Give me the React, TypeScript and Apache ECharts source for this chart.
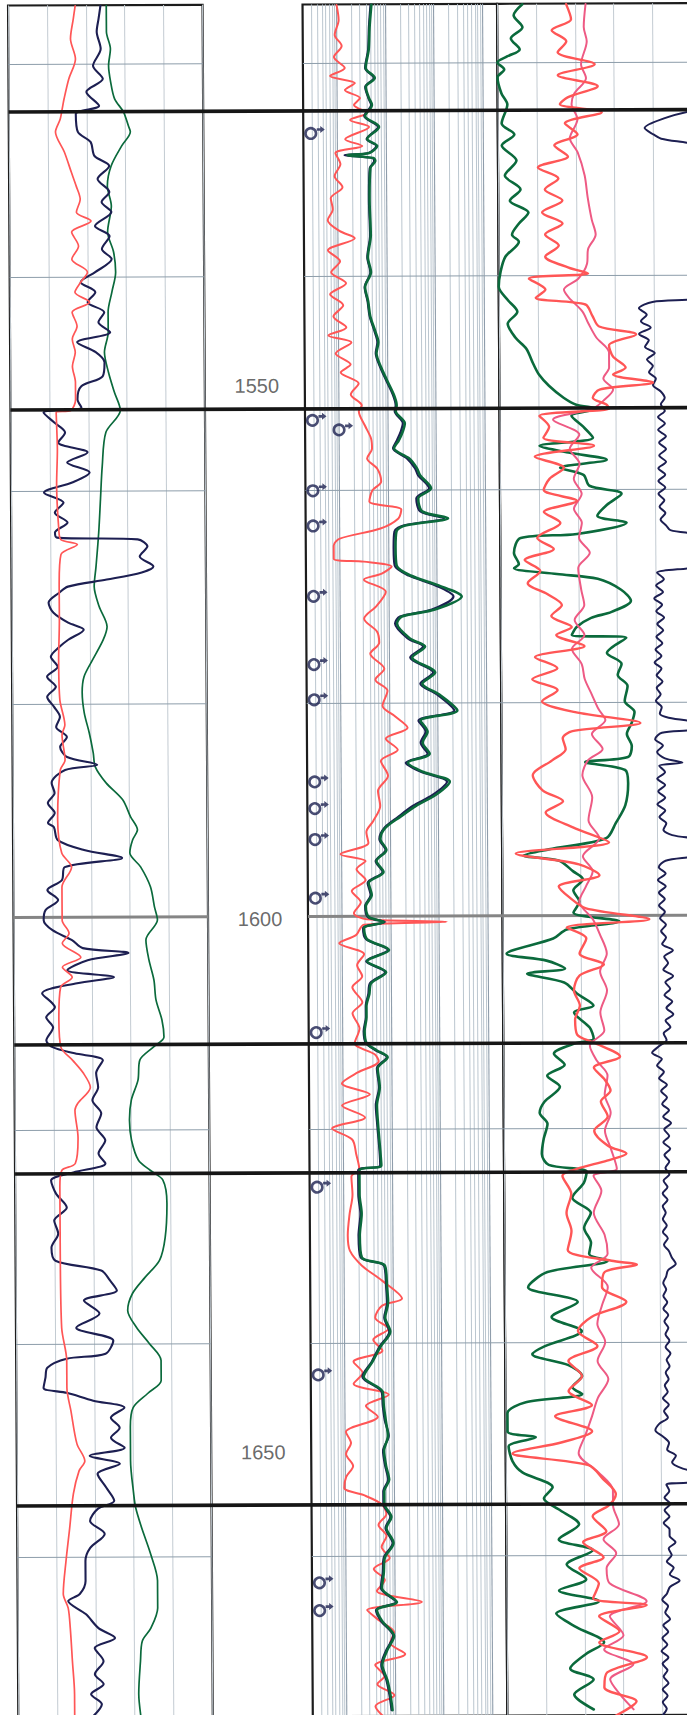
import React, { useEffect, useRef } from "react";
import * as echarts from "echarts";

// ---------- depth frame ----------
const DEPTH_MIN = 1514.5;
const DEPTH_MAX = 1675;
const depthLabels = [1550, 1600, 1650];
const minorDepthLines = [1520, 1540, 1560, 1580, 1620, 1640, 1660];
const majorDepthLines = [1600];
const zoneTops = [1524.5, 1552.4, 1611.9, 1624.0, 1655.2];
const logMantissas = [1, 2, 3, 4, 5, 6, 7, 8, 9];
const logDecades = [0.1, 1, 10, 100, 1000];

// ---------- track 2 markers ----------
const markerDepths = [1526.6, 1553.5, 1554.4, 1560.1, 1563.4, 1570.0, 1576.4, 1579.7, 1587.4, 1589.9, 1592.8, 1598.3, 1610.9, 1625.4, 1643.0, 1662.5, 1665.1];
const markerRes = [0.285, 0.285, 1.0, 0.285, 0.285, 0.285, 0.285, 0.285, 0.285, 0.285, 0.285, 0.285, 0.285, 0.285, 0.285, 0.285, 0.285];

// ---------- track 1 : [depth, value] (scale 0-200) ----------
const t1Red = [[1514.55,69],[1515.77,67],[1517.65,64],[1519.53,69],[1521.41,62],[1523.29,57],[1524.23,55],[1525.16,53],[1526.38,48],[1528.26,57],[1530.14,64],[1531.46,69],[1532.68,73],[1533.9,69],[1534.74,84],[1535.77,64],[1537.09,71],[1538.31,64],[1539.53,80],[1540.47,73],[1541.41,67],[1542.35,82],[1543.29,64],[1544.6,69],[1545.82,64],[1547.04,67],[1548.36,64],[1549.86,67],[1551.46,67],[1552.49,62],[1552.68,47],[1556.15,48],[1559.5,47],[1563.66,49],[1564.6,51],[1565.07,68],[1566.01,51],[1569.0,49],[1572.11,49],[1576.0,48],[1579.62,49],[1581.97,54],[1582.91,51],[1585.26,54],[1586.2,49],[1590.89,46],[1593.99,50],[1595.31,60],[1597.18,50],[1600.28,50],[1601.5,57],[1602.44,50],[1603.76,69],[1604.69,50],[1605.63,60],[1606.57,48],[1609.67,46],[1612.21,48],[1613.43,60],[1614.65,71],[1615.96,78],[1617.46,65],[1618.12,62],[1620.66,65],[1623.1,62],[1623.76,48],[1625.35,46],[1631.55,46],[1638.5,47],[1641.6,52],[1644.13,52],[1646.29,56],[1649.39,62],[1650.99,70],[1651.92,64],[1654.08,58],[1657.28,54],[1660.38,50],[1663.47,47],[1664.79,52],[1666.67,54],[1669.77,56],[1672.86,58],[1674.93,58]];
const t1Navy = [[1514.55,95],[1515.77,93],[1516.99,91],[1518.59,95],[1520.19,87],[1521.41,97],[1522.63,80],[1523.94,93],[1524.69,69],[1526.38,71],[1527.32,84],[1528.64,88],[1529.58,103],[1530.8,91],[1532.02,103],[1532.96,95],[1533.9,105],[1535.21,88],[1536.15,103],[1537.37,95],[1538.31,105],[1539.53,88],[1540.47,73],[1541.41,88],[1542.35,80],[1543.29,97],[1544.23,91],[1545.16,103],[1546.1,69],[1547.04,88],[1547.98,97],[1549.3,95],[1550.23,73],[1551.46,69],[1552.21,73],[1552.68,34],[1553.62,45],[1554.55,56],[1555.49,49],[1556.43,79],[1557.37,58],[1558.31,81],[1559.25,63],[1560.19,34],[1561.13,54],[1562.07,45],[1563.0,58],[1563.94,45],[1564.41,47],[1564.6,130],[1565.26,140],[1566.2,132],[1567.14,146],[1567.7,134],[1568.36,98],[1569.01,58],[1569.58,49],[1570.52,38],[1571.46,43],[1572.39,58],[1573.05,74],[1573.99,58],[1574.65,49],[1575.59,40],[1576.53,47],[1577.46,36],[1578.4,45],[1579.34,36],[1580.28,43],[1581.22,49],[1582.16,45],[1583.1,56],[1584.04,49],[1584.98,56],[1585.73,87],[1586.2,54],[1587.42,40],[1588.36,43],[1589.3,36],[1590.23,43],[1591.17,36],[1591.55,42],[1592.77,46],[1593.71,73],[1594.46,112],[1595.31,53],[1596.53,50],[1597.46,35],[1598.4,46],[1599.34,33],[1600.28,31],[1601.22,40],[1602.16,60],[1602.91,71],[1603.38,118],[1604.04,76],[1604.98,55],[1605.63,103],[1606.2,65],[1607.14,29],[1608.45,42],[1609.39,33],[1610.33,40],[1611.55,33],[1612.21,40],[1612.77,62],[1613.43,91],[1614.65,84],[1615.96,86],[1617.18,80],[1618.4,89],[1619.72,84],[1620.94,93],[1622.16,86],[1623.1,93],[1623.94,60],[1624.69,37],[1625.92,42],[1627.23,53],[1628.45,40],[1629.67,44],[1630.99,37],[1632.21,41],[1633.15,88],[1634.08,97],[1635.02,104],[1635.96,70],[1637.18,86],[1638.5,62],[1639.72,100],[1640.94,92],[1641.41,52],[1642.25,32],[1643.19,30],[1644.13,28],[1644.6,52],[1645.35,79],[1646.01,111],[1646.95,97],[1647.89,106],[1648.83,97],[1649.77,111],[1650.52,75],[1651.27,106],[1652.21,83],[1653.52,92],[1654.74,100],[1655.49,83],[1656.62,75],[1657.84,90],[1659.15,75],[1660.38,70],[1662.25,70],[1663.47,64],[1664.13,52],[1665.35,70],[1666.67,83],[1667.61,100],[1668.54,79],[1669.77,88],[1670.99,79],[1671.92,88],[1672.86,75],[1673.8,86],[1674.93,77]];
const t1Green = [[1514.55,101],[1516.99,101],[1518.59,105],[1520.19,103],[1521.69,105],[1523.29,109],[1524.51,118],[1525.82,123],[1526.38,125],[1527.7,116],[1529.58,105],[1531.46,101],[1533.33,105],[1535.77,101],[1537.65,107],[1539.53,109],[1541.41,105],[1543.29,101],[1545.16,101],[1547.04,97],[1548.92,101],[1550.8,107],[1552.49,113],[1554.55,98],[1557.75,94],[1560.85,92],[1563.94,90],[1567.14,87],[1569.01,85],[1570.89,90],[1572.77,98],[1573.99,94],[1575.87,83],[1577.46,74],[1578.97,72],[1580.85,74],[1582.72,79],[1584.6,83],[1585.92,85],[1587.42,96],[1589.01,113],[1590.61,121],[1591.83,128],[1592.77,123],[1593.99,120],[1595.31,131],[1597.18,141],[1599.06,145],[1600.28,148],[1602.16,136],[1604.04,139],[1605.92,144],[1607.79,146],[1609.67,152],[1611.27,154],[1612.21,143],[1613.43,129],[1615.31,127],[1617.18,120],[1619.06,118],[1620.94,120],[1622.82,127],[1623.76,139],[1624.69,152],[1626.85,156],[1630.05,154],[1632.21,148],[1633.8,133],[1635.31,120],[1636.9,115],[1638.5,124],[1640.0,137],[1641.6,149],[1643.47,149],[1644.69,135],[1646.01,120],[1647.89,117],[1650.99,117],[1654.08,120],[1655.4,122],[1657.28,128],[1659.72,137],[1662.25,144],[1664.79,144],[1666.67,137],[1667.89,128],[1669.77,126],[1672.86,124],[1674.93,126]];

// ---------- track 2 : [depth, ohm.m] (log 0.2-2000) ----------
const t2Red = [[1514.55,1.0],[1515.96,1.1],[1517.37,0.91],[1518.4,1.26],[1519.44,0.87],[1520.47,1.45],[1521.22,0.72],[1521.88,2.33],[1522.54,1.45],[1523.29,2.95],[1523.94,2.22],[1524.69,4.11],[1525.35,1.84],[1526.01,4.52],[1527.14,1.45],[1527.79,3.25],[1528.45,0.91],[1529.48,1.15],[1530.61,0.87],[1531.64,1.26],[1532.68,0.72],[1533.71,0.79],[1534.74,0.62],[1535.77,1.1],[1536.43,2.22],[1537.56,0.62],[1538.59,1.1],[1539.62,0.72],[1540.66,1.45],[1541.69,0.68],[1542.72,1.26],[1543.76,0.79],[1544.79,1.45],[1545.54,0.62],[1546.2,1.84],[1547.23,0.87],[1548.26,1.76],[1549.01,1.1],[1550.05,2.56],[1551.08,1.76],[1552.11,2.95],[1552.68,2.56],[1554.0,3.4],[1555.2,4.52],[1556.15,4.74],[1557.09,3.74],[1558.03,6.0],[1559.25,7.24],[1560.09,4.74],[1561.13,4.11],[1561.88,18.6],[1562.72,16.2],[1563.66,6.9],[1564.6,1.0],[1565.26,0.75],[1566.48,0.75],[1566.76,3.1],[1567.23,11.6],[1567.89,7.24],[1568.45,3.1],[1569.58,8.75],[1570.89,5.7],[1572.11,3.1],[1573.33,5.7],[1574.37,6.3],[1575.4,4.11],[1576.81,7.96],[1577.84,5.2],[1578.87,9.2],[1580.28,7.24],[1581.31,13.4],[1582.35,23.6],[1583.38,8.35],[1584.41,14.7],[1585.45,6.59],[1586.85,9.2],[1588.26,5.7],[1589.67,6.3],[1591.08,4.52],[1592.11,3.25],[1593.15,3.57],[1594.18,0.95],[1594.84,3.1],[1595.59,2.02],[1596.62,3.1],[1597.65,1.6],[1598.69,2.45],[1599.72,1.76],[1600.3,3.25],[1600.56,142],[1600.8,2.82],[1601.78,1.93],[1602.54,0.87],[1603.57,2.82],[1604.6,2.02],[1605.63,2.56],[1606.67,1.6],[1608.08,2.56],[1609.11,1.6],[1610.52,2.22],[1611.92,1.76],[1612.96,4.52],[1613.62,5.46],[1614.65,2.02],[1615.68,0.95],[1616.71,3.57],[1617.75,0.95],[1618.87,2.82],[1619.91,0.59],[1620.94,1.52],[1622.35,1.84],[1623.76,2.12],[1624.41,1.45],[1626.1,1.52],[1627.89,1.32],[1629.95,1.2],[1631.36,1.32],[1632.77,2.33],[1634.18,6.0],[1635.87,15.4],[1636.53,6.0],[1637.65,4.3],[1638.69,7.96],[1639.72,3.9],[1640.75,6.0],[1641.78,1.52],[1642.82,2.33],[1643.85,1.52],[1644.88,7.96],[1645.92,2.7],[1646.95,4.74],[1648.36,1.04],[1649.39,1.32],[1650.42,1.04],[1651.55,1.45],[1652.58,1.04],[1653.62,0.95],[1654.27,2.33],[1655.12,5.46],[1656.06,6.9],[1657.09,4.74],[1658.12,6.9],[1659.15,5.46],[1660.19,7.96],[1661.22,3.74],[1662.25,6.3],[1663.29,4.3],[1664.32,36],[1665.07,2.7],[1666.1,4.96],[1667.14,9.6],[1668.17,7.96],[1669.2,16.2],[1670.23,3.9],[1671.27,6.0],[1672.02,4.3],[1673.05,9.6],[1674.08,3.9],[1675.4,6.9]];
const t2Green = [[1514.55,5.2],[1516.71,4.74],[1518.78,4.52],[1520.47,3.9],[1521.41,6.0],[1522.25,3.9],[1523.29,4.52],[1523.94,5.2],[1524.98,3.74],[1526.01,7.24],[1527.14,4.11],[1527.79,6.59],[1528.45,4.52],[1528.64,1.6],[1528.92,5.46],[1529.2,6.0],[1529.86,4.74],[1532.96,4.52],[1536.15,4.74],[1538.22,4.11],[1539.62,4.74],[1541.03,3.57],[1542.35,4.11],[1543.76,4.52],[1545.16,5.7],[1546.2,6.59],[1547.23,6.0],[1548.64,7.6],[1549.67,9.6],[1551.08,13.4],[1552.11,15.4],[1552.68,14.7],[1553.8,22.5],[1554.55,20.5],[1555.4,16.9],[1556.15,13.4],[1557.09,27.2],[1558.03,39.6],[1558.69,45.7],[1559.91,76.8],[1560.85,41.6],[1562.07,50.2],[1562.72,170],[1563.38,22.5],[1563.94,14.7],[1565.54,14.0],[1567.14,14.7],[1568.08,28.5],[1569.01,107],[1570.05,317],[1571.27,88.6],[1571.92,18.6],[1572.58,14.7],[1573.99,27.2],[1574.74,55.2],[1575.77,29.9],[1577.18,88.6],[1578.22,47.9],[1579.25,107],[1580.75,250],[1581.69,43.6],[1582.72,60.6],[1583.76,47.9],[1584.79,66.6],[1585.63,23.6],[1586.48,47.9],[1587.42,171],[1588.64,88.6],[1589.67,34.4],[1590.7,16.2],[1591.74,7.96],[1592.77,6.3],[1593.8,8.35],[1594.84,5.2],[1595.87,7.24],[1596.9,3.57],[1598.03,4.11],[1599.06,3.1],[1600.09,3.57],[1600.56,7.24],[1601.13,2.82],[1602.16,3.25],[1603.19,9.2],[1604.23,3.25],[1605.26,7.96],[1606.29,3.9],[1607.32,3.57],[1608.45,3.1],[1609.48,3.1],[1610.8,2.82],[1611.92,3.1],[1612.58,4.96],[1613.24,8.35],[1614.27,5.2],[1616.06,5.7],[1617.75,4.96],[1619.53,5.2],[1621.88,5.7],[1623.38,6.0],[1623.85,2.12],[1626.1,2.12],[1627.89,2.33],[1629.95,2.12],[1632.02,2.33],[1632.77,6.9],[1634.84,7.6],[1636.24,7.96],[1637.65,6.9],[1638.97,8.75],[1640.38,5.46],[1641.78,3.74],[1643.19,2.45],[1644.6,6.0],[1645.92,6.3],[1647.32,6.9],[1648.73,7.6],[1650.14,6.3],[1651.55,6.9],[1652.86,7.96],[1653.9,6.3],[1655.12,6.3],[1656.34,8.75],[1657.37,6.9],[1658.78,9.6],[1660.19,6.3],[1661.6,6.0],[1663.0,5.46],[1664.32,11.1],[1665.07,4.3],[1666.1,5.46],[1667.51,9.6],[1668.83,6.9],[1670.23,5.46],[1671.64,6.9],[1673.05,7.96],[1674.46,8.75]];
const t2Navy = [[1514.55,5.0],[1516.71,4.6],[1518.78,4.4],[1520.47,3.8],[1521.41,5.7],[1522.25,3.8],[1523.29,4.4],[1523.94,5.0],[1524.98,3.6],[1526.01,6.9],[1527.14,4.0],[1527.79,6.3],[1528.45,4.4],[1528.64,1.4],[1528.92,5.2],[1529.2,5.7],[1529.86,4.6],[1532.96,4.4],[1536.15,4.6],[1538.22,4.0],[1539.62,4.6],[1541.03,3.5],[1542.35,4.0],[1543.76,4.4],[1545.16,5.5],[1546.2,6.3],[1547.23,5.8],[1548.64,7.3],[1549.67,9.2],[1551.08,12.8],[1552.11,14.7],[1552.68,14.0],[1553.8,20.5],[1554.55,18.6],[1555.4,15.4],[1556.15,12.8],[1557.09,24.7],[1558.03,36.1],[1558.69,41.6],[1559.91,69.9],[1560.85,38],[1562.07,45.7],[1562.72,140],[1563.38,20.5],[1563.94,13.4],[1565.54,12.8],[1567.14,13.4],[1568.08,26],[1569.01,92],[1570.05,215],[1571.27,76.8],[1571.92,16.9],[1572.58,13.4],[1573.99,24.7],[1574.74,50.2],[1575.77,27.2],[1577.18,80.5],[1578.22,43.6],[1579.25,97],[1580.75,217],[1581.69,39.6],[1582.72,55.2],[1583.76,43.6],[1584.79,60.6],[1585.63,21.4],[1586.48,43.6],[1587.42,150],[1588.64,76.8],[1589.67,29.9],[1590.7,14.7],[1591.74,7.6],[1592.77,6.0],[1593.8,8.0],[1594.84,5.0],[1595.87,6.9],[1596.9,3.4],[1598.03,3.9],[1599.06,3.0],[1600.09,3.4],[1600.56,7.6],[1601.13,2.7],[1602.16,3.1],[1603.19,8.75],[1604.23,3.1],[1605.26,7.6],[1606.29,3.7],[1607.32,3.4],[1608.45,3.0],[1609.48,3.0],[1610.8,2.7],[1611.92,3.0],[1612.58,4.7],[1613.24,8.0],[1614.27,5.0],[1616.06,5.5],[1617.75,4.7],[1619.53,5.0],[1621.88,5.5],[1623.38,5.7],[1623.85,2.0],[1626.1,2.0],[1627.89,2.2],[1629.95,2.0],[1632.02,2.2],[1632.77,6.6],[1634.84,7.3],[1636.24,7.6],[1637.65,6.6],[1638.97,8.35],[1640.38,5.2],[1641.78,3.6],[1643.19,2.3],[1644.6,5.7],[1645.92,6.0],[1647.32,6.6],[1648.73,7.9],[1650.14,6.0],[1651.55,6.6],[1652.86,7.6],[1653.9,6.0],[1655.12,6.0],[1656.34,8.35],[1657.37,6.6],[1658.78,9.2],[1660.19,6.0],[1661.6,5.7],[1663.0,5.2],[1664.32,10.6],[1665.07,4.1],[1666.1,5.2],[1667.51,9.2],[1668.83,6.6],[1670.23,5.2],[1671.64,6.6],[1673.05,7.6],[1674.46,8.35]];

// ---------- track 3 : [depth, value] (scale 0-200) ----------
const t3Green = [[1514.55,26],[1515.59,17],[1516.71,26],[1517.75,14],[1518.78,23],[1519.44,10],[1520.0,0],[1520.66,7],[1521.41,0],[1522.91,4],[1523.94,10],[1525.73,4],[1526.76,17],[1527.79,4],[1529.2,19],[1530.61,7],[1531.92,23],[1532.96,12],[1534.08,31],[1535.12,21],[1536.15,14],[1536.81,21],[1538.22,7],[1539.62,2],[1541.03,0],[1542.25,9],[1543.38,19],[1544.51,9],[1545.82,17],[1546.85,28],[1548.26,35],[1549.3,41],[1550.33,51],[1551.46,66],[1552.11,79],[1552.49,100],[1553.15,74],[1554.18,86],[1555.21,96],[1555.96,41],[1556.62,72],[1557.28,110],[1558.03,62],[1558.69,86],[1559.72,92],[1560.47,125],[1561.5,110],[1562.54,100],[1563.19,130],[1564.23,79],[1564.6,21],[1566.01,14],[1567.04,19],[1567.42,14],[1567.98,58],[1568.45,100],[1569.48,124],[1570.52,134],[1571.55,114],[1572.11,93],[1572.96,78],[1573.71,73],[1573.99,129],[1575.4,109],[1576.43,124],[1577.46,120],[1578.5,130],[1579.91,127],[1580.94,137],[1581.97,134],[1583.0,129],[1584.13,134],[1585.16,130],[1585.63,86],[1586.38,127],[1587.61,130],[1589.67,127],[1591.36,117],[1592.77,107],[1593.8,48],[1594.37,22],[1594.84,58],[1595.87,73],[1596.62,83],[1597.65,73],[1598.69,79],[1599.72,73],[1600.56,120],[1601.31,66],[1602.16,52],[1603.57,4],[1604.23,45],[1604.98,64],[1605.45,25],[1606.29,63],[1607.32,76],[1608.45,93],[1609.11,73],[1610.52,89],[1611.55,93],[1612.02,73],[1612.96,52],[1613.99,63],[1615.02,45],[1616.06,58],[1617.46,42],[1618.5,37],[1619.53,45],[1620.94,41],[1622.35,39],[1623.38,46],[1624.04,85],[1625.07,82],[1626.48,70],[1627.89,89],[1629.3,82],[1630.7,89],[1631.74,87],[1632.39,106],[1633.43,44],[1634.84,24],[1636.24,75],[1637.65,48],[1638.97,79],[1640.38,41],[1641.13,28],[1642.16,65],[1643.19,79],[1644.23,69],[1644.88,79],[1645.63,21],[1646.67,2],[1648.36,2],[1648.92,31],[1649.77,3],[1651.17,7],[1652.21,17],[1653.62,48],[1654.65,39],[1655.68,54],[1657.09,75],[1658.5,54],[1659.53,89],[1660.85,62],[1662.25,82],[1663.29,54],[1664.32,95],[1665.45,51],[1666.76,72],[1668.17,100],[1669.2,82],[1670.61,65],[1671.64,89],[1673.05,69],[1674.46,89]];
const t3Red = [[1514.55,71],[1515.96,76],[1516.99,56],[1518.03,71],[1519.06,62],[1520.19,100],[1521.22,62],[1522.25,103],[1523.29,72],[1523.94,64],[1524.69,107],[1525.73,69],[1526.76,82],[1527.79,58],[1528.83,72],[1529.86,41],[1530.89,62],[1531.92,48],[1532.96,66],[1534.08,45],[1535.12,66],[1536.15,48],[1537.18,62],[1538.22,48],[1539.25,72],[1539.81,92],[1540.28,31],[1541.31,48],[1542.07,38],[1542.72,89],[1543.76,96],[1544.79,103],[1545.54,141],[1546.57,113],[1547.61,117],[1548.64,130],[1549.3,117],[1550.05,158],[1550.7,103],[1551.46,96],[1552.11,110],[1552.49,113],[1553.15,41],[1554.18,51],[1555.21,45],[1555.96,97],[1556.99,36],[1558.03,66],[1559.06,51],[1560.09,45],[1561.13,79],[1562.16,45],[1563.19,62],[1564.6,38],[1565.63,55],[1566.67,25],[1567.7,41],[1568.83,28],[1569.86,48],[1570.89,63],[1571.92,52],[1572.96,73],[1573.71,57],[1574.74,86],[1575.77,35],[1576.81,58],[1577.84,32],[1578.87,58],[1579.91,42],[1580.94,76],[1581.97,143],[1582.72,73],[1583.38,63],[1584.41,66],[1585.45,52],[1586.85,32],[1588.26,42],[1589.3,63],[1590.33,45],[1591.74,73],[1593.15,110],[1594.18,14],[1595.21,79],[1596.24,100],[1597.28,58],[1598.31,69],[1599.34,86],[1600.38,151],[1601.13,66],[1602.16,86],[1603.57,79],[1604.6,104],[1605.63,79],[1607.04,73],[1608.45,79],[1609.77,74],[1611.17,76],[1611.92,93],[1613.24,120],[1614.27,93],[1615.4,104],[1616.43,110],[1617.46,100],[1618.87,107],[1620.19,93],[1621.6,107],[1622.35,126],[1623.0,106],[1623.76,75],[1624.41,60],[1626.1,69],[1627.89,64],[1629.58,69],[1631.36,65],[1632.39,110],[1632.77,136],[1633.43,103],[1634.84,100],[1636.24,125],[1637.65,89],[1638.97,75],[1640.38,95],[1641.78,65],[1643.19,79],[1644.6,65],[1645.92,89],[1646.95,51],[1648.36,89],[1649.39,58],[1650.42,7],[1651.55,85],[1652.86,100],[1654.27,113],[1655.31,106],[1656.34,89],[1657.75,103],[1658.78,79],[1660.19,100],[1661.22,75],[1662.63,95],[1664.04,89],[1664.69,144],[1665.73,95],[1667.14,116],[1668.17,95],[1669.58,144],[1670.99,103],[1672.39,100],[1673.71,133],[1675.12,110]];
const t3Pink = [[1514.55,91],[1516.71,89],[1518.03,92],[1520.19,86],[1521.5,91],[1522.91,79],[1523.94,76],[1525.35,82],[1527.14,74],[1528.45,82],[1530.61,89],[1532.68,92],[1534.74,96],[1536.15,100],[1537.56,92],[1538.87,91],[1540.28,82],[1541.31,67],[1542.07,72],[1543.38,86],[1544.51,92],[1545.82,100],[1547.23,113],[1548.64,113],[1549.67,107],[1550.7,117],[1551.74,107],[1552.49,96],[1553.52,55],[1554.93,82],[1556.24,72],[1557.65,82],[1559.06,76],[1560.47,84],[1561.88,76],[1563.19,84],[1564.6,81],[1566.01,92],[1567.42,80],[1569.48,83],[1570.89,86],[1572.3,76],[1573.71,86],[1575.02,73],[1576.43,83],[1577.84,86],[1579.25,93],[1580.66,100],[1581.69,107],[1583.0,93],[1584.41,104],[1585.45,89],[1586.85,83],[1588.92,93],[1591.08,89],[1592.77,100],[1594.46,83],[1595.87,93],[1597.28,86],[1598.69,79],[1600.38,93],[1601.78,100],[1603.57,107],[1605.26,100],[1607.04,107],[1609.11,100],[1610.8,104],[1612.21,89],[1613.62,96],[1615.02,107],[1616.81,104],[1618.5,110],[1620.19,104],[1621.88,110],[1623.76,116],[1624.41,92],[1625.82,100],[1627.89,92],[1629.95,103],[1631.74,106],[1633.05,89],[1634.84,106],[1636.53,100],[1638.31,95],[1640.0,103],[1641.78,95],[1643.47,106],[1645.26,95],[1646.95,89],[1648.73,82],[1650.42,75],[1652.21,95],[1653.9,110],[1655.31,110],[1657.09,116],[1658.5,100],[1659.81,113],[1661.22,103],[1662.63,106],[1664.32,144],[1665.73,106],[1667.51,120],[1668.83,100],[1670.23,130],[1671.64,106],[1673.05,116],[1674.46,130]];
const t3Navy = [[1524.5,215],[1524.7,195],[1525.3,171],[1526.2,151],[1526.8,160],[1527.2,168],[1527.6,195],[1528.0,215],[1535.0,220],[1542.1,215],[1542.3,196],[1542.5,158],[1543.1,144],[1543.7,152],[1544.3,146],[1544.9,156],[1545.5,144],[1546.1,154],[1546.7,150],[1547.3,160],[1547.9,152],[1548.5,158],[1549.1,154],[1549.7,161],[1550.3,158],[1550.9,166],[1551.5,170],[1552.1,166],[1552.7,170],[1553.3,163],[1553.9,170],[1554.5,163],[1555.1,171],[1555.7,164],[1556.3,171],[1556.9,164],[1557.5,171],[1558.1,163],[1558.7,170],[1559.3,163],[1559.9,170],[1560.5,163],[1561.1,169],[1561.7,164],[1562.3,170],[1562.9,165],[1563.5,171],[1563.9,175],[1564.2,196],[1564.4,215],[1566.0,220],[1567.3,215],[1567.5,192],[1567.9,161],[1568.5,168],[1569.1,160],[1569.7,167],[1570.3,158],[1570.9,166],[1571.5,160],[1572.1,168],[1572.7,161],[1573.3,167],[1573.9,160],[1574.5,166],[1575.1,159],[1575.7,165],[1576.3,158],[1576.9,165],[1577.5,160],[1578.1,166],[1578.7,160],[1579.3,164],[1579.9,159],[1580.5,165],[1581.1,163],[1581.5,172],[1581.8,195],[1582.0,215],[1582.5,215],[1582.7,192],[1582.9,165],[1583.5,158],[1584.1,166],[1584.7,160],[1585.3,168],[1585.7,186],[1586.0,162],[1586.6,168],[1587.2,160],[1587.8,168],[1588.4,161],[1589.0,168],[1589.6,160],[1590.2,168],[1590.8,162],[1591.4,169],[1592.0,166],[1592.5,175],[1592.8,198],[1593.0,215],[1594.4,215],[1594.6,190],[1594.9,168],[1595.5,161],[1596.1,168],[1596.7,160],[1597.3,168],[1597.9,161],[1598.5,167],[1599.1,161],[1599.7,167],[1600.3,162],[1600.9,168],[1601.5,163],[1602.1,168],[1602.7,164],[1603.3,175],[1603.9,166],[1604.5,170],[1605.1,165],[1605.7,175],[1606.3,167],[1606.9,172],[1607.5,166],[1608.1,174],[1608.7,168],[1609.3,175],[1609.9,167],[1610.5,172],[1611.1,165],[1611.7,168],[1612.3,160],[1612.9,153],[1613.5,163],[1614.1,158],[1614.7,165],[1615.3,160],[1615.9,168],[1616.5,162],[1617.1,168],[1617.7,163],[1618.3,170],[1618.9,164],[1619.5,172],[1620.1,165],[1620.7,170],[1621.3,164],[1621.9,171],[1622.5,165],[1623.1,170],[1623.7,166],[1624.3,170],[1624.9,164],[1625.5,168],[1626.1,163],[1626.7,168],[1627.3,163],[1627.9,166],[1628.5,163],[1629.1,167],[1629.7,163],[1630.3,168],[1630.9,164],[1631.5,169],[1632.1,172],[1632.7,176],[1633.3,168],[1633.9,166],[1634.5,163],[1635.1,166],[1635.7,163],[1636.3,167],[1636.9,163],[1637.5,168],[1638.1,164],[1638.7,168],[1639.3,165],[1639.9,169],[1640.5,165],[1641.1,170],[1641.7,166],[1642.3,169],[1642.9,165],[1643.5,168],[1644.1,164],[1644.7,167],[1645.3,162],[1645.9,168],[1646.5,163],[1647.1,167],[1647.7,158],[1648.3,154],[1648.9,162],[1649.5,168],[1650.1,166],[1650.7,175],[1651.3,171],[1651.9,182],[1652.2,198],[1652.4,215],[1653.0,215],[1653.2,195],[1653.4,165],[1654.0,168],[1654.6,163],[1655.2,169],[1655.8,163],[1656.4,168],[1657.0,162],[1657.6,168],[1658.2,168],[1658.8,174],[1659.4,167],[1660.0,170],[1660.6,165],[1661.2,172],[1661.8,168],[1662.4,178],[1663.0,168],[1663.6,165],[1664.2,160],[1664.8,166],[1665.4,163],[1666.0,168],[1666.6,161],[1667.2,166],[1667.8,160],[1668.4,165],[1669.0,159],[1669.6,166],[1670.2,160],[1670.8,165],[1671.4,161],[1672.0,166],[1672.6,160],[1673.2,165],[1673.8,160],[1674.4,164],[1675.0,160]];

// ---------- styling ----------
const RED = "#ff5656";
const PINK = "#ee5a84";
const GREEN = "#0b6a3c";
const NAVY = "#1d1f52";
const GRID_TOP = 5.5;
const GRID_H = (DEPTH_MAX - DEPTH_MIN) * 10.665;

const tracks = [
  { left: 8, width: 194.5 },
  { left: 202.5, width: 100 },
  { left: 302.5, width: 194.5 },
  { left: 497, width: 194.5 },
  { left: 8, width: 683.5 },
];

function curve(data: number[][], idx: number, color: string, width: number, z = 10) {
  return {
    type: "line",
    data,
    xAxisIndex: idx,
    yAxisIndex: idx,
    encode: { x: 1, y: 0 },
    symbol: "none",
    showSymbol: false,
    smooth: 0.3,
    clip: true,
    silent: true,
    z,
    lineStyle: { color, width, join: "round", cap: "round" },
  };
}

function lines(idx: number, dummy: number[], data: any[], color: string, width: number, z: number) {
  return {
    type: "line",
    xAxisIndex: idx,
    yAxisIndex: idx,
    encode: { x: 1, y: 0 },
    data: [dummy],
    symbol: "none",
    showSymbol: false,
    silent: true,
    lineStyle: { opacity: 0 },
    z,
    markLine: {
      silent: true,
      symbol: ["none", "none"],
      label: { show: false },
      z,
      animation: false,
      lineStyle: { color, width, type: "solid" },
      data,
    },
  };
}

export default function App() {
  const ref = useRef<HTMLDivElement>(null);

  useEffect(() => {
    if (!ref.current) return;
    const chart = echarts.init(ref.current, undefined, { renderer: "svg" });

    const logMinor: number[] = [];
    const logMajor: number[] = [];
    logDecades.forEach((dec) => {
      logMantissas.forEach((m) => {
        const v = +(m * dec).toPrecision(3);
        if (v > 0.2 && v < 2000) {
          if (m === 1) logMajor.push(v);
          else logMinor.push(v);
        }
      });
    });

    const linAxis = (gi: number) => ({
      gridIndex: gi,
      type: "value",
      min: 0,
      max: 200,
      interval: 40,
      axisLine: { show: false },
      axisTick: { show: false },
      axisLabel: { show: false },
      splitLine: { show: true, lineStyle: { color: "#c3cbd2", width: 1 } },
    });

    const option: any = {
      animation: false,
      backgroundColor: "transparent",
      grid: tracks.map((t, i) => ({
        left: t.left,
        top: GRID_TOP,
        width: t.width,
        height: GRID_H,
        show: i === 0 || i === 2 || i === 3,
        borderColor: "#1c1c1c",
        borderWidth: 2.2,
        backgroundColor: "transparent",
        containLabel: false,
      })),
      xAxis: [
        linAxis(0),
        { gridIndex: 1, type: "value", min: 0, max: 1, show: false },
        {
          gridIndex: 2,
          type: "log",
          logBase: 10,
          min: 0.2,
          max: 2000,
          axisLine: { show: false },
          axisTick: { show: false },
          axisLabel: { show: false },
          splitLine: { show: false },
        },
        linAxis(3),
        { gridIndex: 4, type: "value", min: 0, max: 1, show: false },
      ],
      yAxis: tracks.map((_, i) => ({
        gridIndex: i,
        type: "value",
        inverse: true,
        min: DEPTH_MIN,
        max: DEPTH_MAX,
        show: false,
      })),
      series: [
        // background grids
        lines(2, [1600, 1], logMinor.map((v) => ({ xAxis: v })), "#b3bfca", 0.9, 1),
        lines(2, [1600, 1], logMajor.map((v) => ({ xAxis: v })), "#8f9dab", 1.1, 1),
        ...[0, 2, 3].map((gi) =>
          lines(gi, [1600, gi === 2 ? 1 : 100], minorDepthLines.map((d) => ({ yAxis: d })), "#8d9daa", 1, 2)
        ),
        ...[0, 2, 3].map((gi) =>
          lines(gi, [1600, gi === 2 ? 1 : 100], majorDepthLines.map((d) => ({ yAxis: d })), "#858585", 3, 2)
        ),
        // track 1
        curve(t1Green, 0, GREEN, 1.7),
        curve(t1Navy, 0, NAVY, 2.1),
        curve(t1Red, 0, RED, 1.7),
        // track 2
        curve(t2Red, 2, RED, 2),
        curve(t2Navy, 2, NAVY, 2.2),
        curve(t2Green, 2, GREEN, 2.6),
        // track 3
        curve(t3Navy, 3, NAVY, 2),
        curve(t3Green, 3, GREEN, 2.6),
        curve(t3Pink, 3, PINK, 2),
        curve(t3Red, 3, RED, 2.4),
        // zone tops across full width
        lines(4, [1600, 0.5], zoneTops.map((d) => ({ yAxis: d })), "#161616", 3.6, 20),
        // depth labels
        {
          type: "scatter",
          xAxisIndex: 1,
          yAxisIndex: 1,
          encode: { x: 1, y: 0 },
          data: depthLabels.map((d) => [d, 0.5]),
          symbolSize: 1,
          silent: true,
          itemStyle: { color: "transparent" },
          label: {
            show: true,
            position: "inside",
            offset: [2, 2.5],
            formatter: (p: any) => String(p.value[0]),
            fontSize: 20,
            fontFamily: "Liberation Sans, Arial, sans-serif",
            color: "#444444",
          },
          z: 15,
        },
        // markers: circle + arrow
        {
          type: "scatter",
          xAxisIndex: 2,
          yAxisIndex: 2,
          encode: { x: 1, y: 0 },
          data: markerDepths.map((d, i) => [d, markerRes[i]]),
          symbol: "circle",
          symbolSize: 10.5,
          silent: true,
          itemStyle: { color: "rgba(255,255,255,0)", borderColor: "#1c2050", borderWidth: 2.6 },
          z: 15,
        },
        {
          type: "scatter",
          xAxisIndex: 2,
          yAxisIndex: 2,
          encode: { x: 1, y: 0 },
          data: markerDepths.map((d, i) => [d, markerRes[i]]),
          symbol: "path://M0,2.5 L3.5,2.5 L3.5,0 L8,4 L3.5,8 L3.5,5.5 L0,5.5 Z",
          symbolSize: [8, 7],
          symbolOffset: [10, -4],
          silent: true,
          itemStyle: { color: "#1c2050" },
          z: 15,
        },
      ],
    };

    chart.setOption(option);
    return () => chart.dispose();
  }, []);

  return (
    <div
      style={{
        position: "absolute",
        left: 0,
        top: 0,
        width: 687,
        height: 1715,
        overflow: "hidden",
        background: "#ffffff",
      }}
    >
      <div
        ref={ref}
        style={{
          width: 705,
          height: 1725,
          transform: "matrix(1, -0.0034, 0.006, 1, 0, 0)",
          transformOrigin: "0 0",
        }}
      />
    </div>
  );
}
